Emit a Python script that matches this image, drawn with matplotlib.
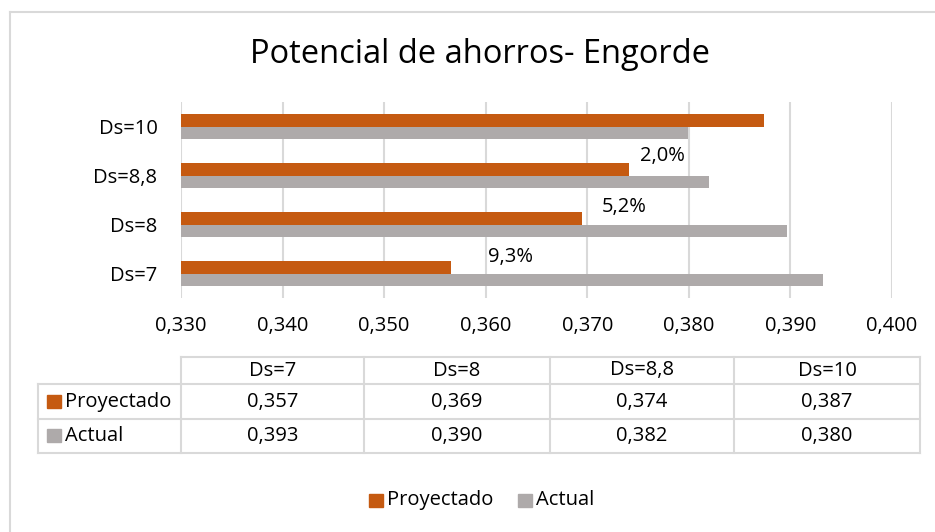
import numpy as np
import matplotlib.pyplot as plt
from matplotlib.ticker import FuncFormatter

plt.rcParams['font.family'] = ['Open Sans', 'DejaVu Sans']

# data
categories = ['Ds=7', 'Ds=8', 'Ds=8,8', 'Ds=10']
proyectado = [0.3566, 0.3695, 0.3741, 0.3874]
actual = [0.3932, 0.3897, 0.3820, 0.3799]
ahorro_labels = ['9,3%', '5,2%', '2,0%']
ahorro_pos = [(0.3624, 0.33), (0.3736, 1.36), (0.3774, 2.40)]   # where the text boxes sit

c_proy = '#C55A11'
c_act = '#AEAAAA'
c_grid = '#D9D9D9'
W, H = 935, 532
fs = 14.5


def fmt(v):
    return f'{v:.3f}'.replace('.', ',')


fig = plt.figure(figsize=(W / 100, H / 100), dpi=100)

# main bar axes (pixel box 181..892 x 102..298)
ax = fig.add_axes([181 / W, 1 - 298 / H, 711 / W, 196 / H])
y = np.arange(len(categories))
bh = 0.255
ax.barh(y + bh / 2, proyectado, height=bh, color=c_proy, zorder=3)
ax.barh(y - bh / 2, actual, height=bh, color=c_act, zorder=3)
ax.set_xlim(0.330, 0.400)
ax.set_ylim(-0.5, 3.5)
ax.set_xticks(np.arange(0.330, 0.4001, 0.010))
ax.xaxis.set_major_formatter(FuncFormatter(lambda v, p: fmt(v)))
ax.set_yticks(y)
ax.set_yticklabels(categories)
ax.tick_params(axis='x', length=0, pad=13, labelsize=fs, colors='#000000')
ax.tick_params(axis='y', length=0, pad=17, labelsize=fs)
ax.grid(axis='x', color=c_grid, linewidth=1.5, zorder=0)
for s in ax.spines.values():
    s.set_visible(False)

for txt, (xx, yy) in zip(ahorro_labels, ahorro_pos):
    ax.text(xx, yy, txt, ha='center', va='center', fontsize=fs)

# overlay axes in pixel coordinates for title, table, legend, border
ov = fig.add_axes([0, 0, 1, 1], zorder=-1)
ov.set_xlim(0, W)
ov.set_ylim(H, 0)
ov.axis('off')

# chart border
ov.plot([10, W], [12, 12], color=c_grid, lw=1.5)
ov.plot([10, 10], [12, H], color=c_grid, lw=1.5)

ov.text(480, 63, 'Potencial de ahorros- Engorde', ha='center', va='baseline', fontsize=23.5)

# data table
col_x = [181, 364, 550, 734, 920]
row_y = [357, 384, 419, 453]
ov.plot([col_x[0], col_x[-1]], [row_y[0], row_y[0]], color=c_grid, lw=1.5)
for ry in row_y[1:]:
    ov.plot([38, col_x[-1]], [ry, ry], color=c_grid, lw=1.5)
ov.plot([38, 38], [row_y[1], row_y[-1]], color=c_grid, lw=1.5)
for cx in col_x:
    ov.plot([cx, cx], [row_y[0], row_y[-1]], color=c_grid, lw=1.5)

rows = [('Proyectado', proyectado, c_proy), ('Actual', actual, c_act)]
for i, cat in enumerate(categories):
    xc = (col_x[i] + col_x[i + 1]) / 2
    ov.text(xc, (row_y[0] + row_y[1]) / 2, cat, ha='center', va='center', fontsize=fs)
    for r, (name, vals, col) in enumerate(rows):
        yc = (row_y[r + 1] + row_y[r + 2]) / 2
        ov.text(xc, yc, fmt(vals[i]), ha='center', va='center', fontsize=fs)
for r, (name, vals, col) in enumerate(rows):
    yc = (row_y[r + 1] + row_y[r + 2]) / 2
    ov.add_patch(plt.Rectangle((47, yc - 7), 14, 13, color=col))
    ov.text(65, yc, name, ha='left', va='center', fontsize=fs)

# legend
for lx, (name, vals, col) in zip([369, 518], rows):
    ov.add_patch(plt.Rectangle((lx, 494), 14, 13, color=col))
    ov.text(lx + 18, 500, name, ha='left', va='center', fontsize=fs)

fig.savefig('out.png', dpi=100)
